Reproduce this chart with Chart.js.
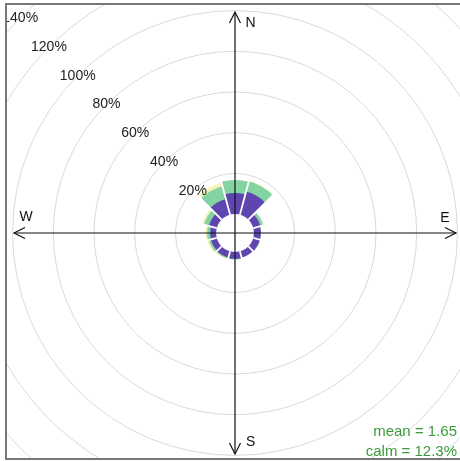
<!DOCTYPE html>
<html>
<head>
<meta charset="utf-8">
<script src="https://cdn.jsdelivr.net/npm/chart.js@4.4.1/dist/chart.umd.min.js"></script>
<style>
  html, body { margin: 0; padding: 0; background: #fff; overflow: hidden; }
  #frame { position: absolute; left: 5px; top: 3px; width: 470px; height: 453px; border: 2px solid #777; overflow: hidden; }
  #rose { position: absolute; left: -122px; top: -122px; }
</style>
</head>
<body>
<div id="frame"><canvas id="rose" width="700" height="700"></canvas></div>
<script>
// wind directions, 30 degree sectors starting at north
const directions = ['N', 'NNE', 'ENE', 'E', 'ESE', 'SSE', 'S', 'SSW', 'WSW', 'W', 'WNW', 'NNW'];
const speedBins = ['0 to 2', '2 to 4', '4 to 6'];
const binColours = ['#5f45b0', '#84d3a3', '#f4f2b4'];

// percentage of time in each sector, per speed bin
const lowSpeed = [10.3, 11.8, 3.6, 3.4, 3.3, 3.2, 3.4, 3.2, 3.0, 2.9, 4.0, 8.0];
const midSpeed = [6.5, 5.2, 1.5, 0.0, 0.3, 0.0, 0.3, 0.5, 1.0, 1.5, 2.5, 6.5];
const highSpeed = [0.0, 0.3, 0.0, 0.0, 0.0, 0.0, 0.0, 0.3, 0.7, 0.8, 1.0, 1.8];

const ringTicks = [20, 40, 60, 80, 100, 120, 140];
const meanSpeed = 1.65;
const calmPct = 12.3;

// stacked totals (drawn back to front)
const cumMid = lowSpeed.map((v, i) => v + midSpeed[i]);
const cumHigh = cumMid.map((v, i) => v + highSpeed[i]);

const roseExtras = {
  id: 'roseExtras',
  afterDatasetsDraw(chart) {
    const ctx = chart.ctx;
    const r = chart.scales.r;
    const cx = r.xCenter, cy = r.yCenter;
    const rad = v => r.getDistanceFromCenterForValue(v);
    const n = directions.length;
    const start = r.getIndexAngle(0) - Math.PI / 2;

    ctx.save();
    // white gaps between paddles
    ctx.strokeStyle = '#fff';
    ctx.lineWidth = 1.8;
    for (let k = 0; k < n; k++) {
      const a = start + k * 2 * Math.PI / n;
      const reach = rad(Math.max(cumHigh[k], cumHigh[(k + n - 1) % n])) + 1;
      ctx.beginPath();
      ctx.moveTo(cx + Math.cos(a) * rad(0), cy + Math.sin(a) * rad(0));
      ctx.lineTo(cx + Math.cos(a) * reach, cy + Math.sin(a) * reach);
      ctx.stroke();
    }
    // hole in the middle
    ctx.fillStyle = '#fff';
    ctx.beginPath();
    ctx.arc(cx, cy, rad(0), 0, 2 * Math.PI);
    ctx.fill();

    // axes with arrow heads
    const L = rad(99.3);
    ctx.strokeStyle = '#111';
    ctx.lineWidth = 1.2;
    ctx.beginPath();
    ctx.moveTo(cx, cy - L); ctx.lineTo(cx, cy + L);
    ctx.moveTo(cx - L, cy); ctx.lineTo(cx + L, cy);
    ctx.stroke();
    const head = (tx, ty, dx, dy) => {
      const px = -dy, py = dx;
      ctx.beginPath();
      ctx.moveTo(tx - dx * 11 + px * 5.5, ty - dy * 11 + py * 5.5);
      ctx.lineTo(tx, ty);
      ctx.lineTo(tx - dx * 11 - px * 5.5, ty - dy * 11 - py * 5.5);
      ctx.stroke();
    };
    head(cx, cy - L, 0, -1);
    head(cx, cy + L, 0, 1);
    head(cx - L, cy, -1, 0);
    head(cx + L, cy, 1, 0);

    ctx.font = '14px "Liberation Sans", Arial, sans-serif';
    ctx.fillStyle = '#111';
    ctx.textBaseline = 'middle';
    ctx.textAlign = 'left';
    ctx.fillText('N', cx + 10.5, cy - L + 11);
    ctx.fillText('S', cx + 11, cy + L - 12);
    ctx.textAlign = 'center';
    ctx.fillText('W', cx - L + 12, cy - 15.5);
    ctx.fillText('E', cx + L - 11, cy - 15);

    // ring labels along the north-west diagonal
    ctx.fillStyle = '#222';
    ringTicks.forEach(v => {
      const p = rad(v) / Math.SQRT2;
      ctx.fillText(v + '%', cx - p, cy - p);
    });

    ctx.font = '15px "Liberation Sans", Arial, sans-serif';
    ctx.fillStyle = '#3b9b3b';
    ctx.textAlign = 'right';
    ctx.textBaseline = 'alphabetic';
    ctx.fillText('mean = ' + meanSpeed, cx + 222, cy + 202.5);
    ctx.fillText('calm = ' + calmPct + '%', cx + 222, cy + 223);
    ctx.restore();
  }
};

new Chart(document.getElementById('rose'), {
  type: 'polarArea',
  data: {
    labels: directions,
    datasets: [
      { label: speedBins[0], data: lowSpeed, backgroundColor: binColours[0], borderWidth: 0 },
      { label: speedBins[1], data: cumMid, backgroundColor: binColours[1], borderWidth: 0 },
      { label: speedBins[2], data: cumHigh, backgroundColor: binColours[2], borderWidth: 0 },
    ],
  },
  options: {
    responsive: false,
    animation: false,
    layout: { padding: 0 },
    scales: {
      r: {
        min: -9.3,
        max: 162.7,
        startAngle: -15,
        ticks: { display: false, stepSize: 20 },
        angleLines: { display: false },
        pointLabels: { display: false },
        grid: {
          circular: true,
          lineWidth: 1,
          color: (c) => (c.tick && c.tick.value > 0 && c.tick.value % 20 === 0) ? '#d9d9d9' : 'rgba(0,0,0,0)',
        },
      },
    },
    plugins: {
      legend: { display: false },
      tooltip: { enabled: false },
    },
  },
  plugins: [roseExtras],
});
</script>
</body>
</html>
